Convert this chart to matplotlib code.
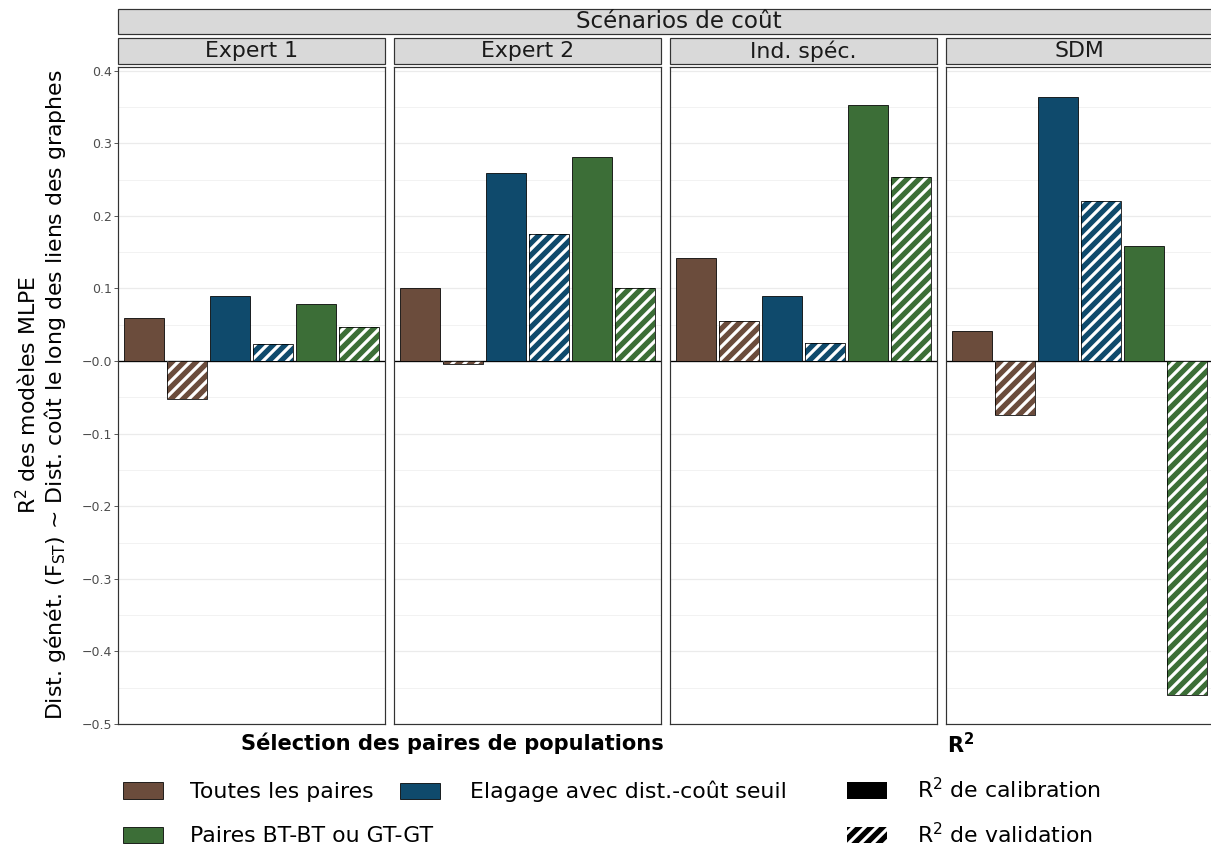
import matplotlib.pyplot as plt
import numpy as np
from matplotlib.patches import Patch, Rectangle

# data
scenarios = ['Expert 1', 'Expert 2', 'Ind. spéc.', 'SDM']
selections = ['Toutes les paires', 'Elagage avec dist.-coût seuil', 'Paires BT-BT ou GT-GT']
sel_colors = ['#6B4C3C', '#0F4A6C', '#3C6E37']

# R2 per scenario (Expert 1, Expert 2, Ind. spec., SDM)
cal_toutes = [0.059, 0.101, 0.142, 0.041]
val_toutes = [-0.052, -0.004, 0.055, -0.074]
cal_elagage = [0.089, 0.259, 0.090, 0.364]
val_elagage = [0.023, 0.175, 0.025, 0.221]
cal_btgt = [0.078, 0.281, 0.353, 0.158]
val_btgt = [0.047, 0.101, 0.254, -0.460]

cal = [cal_toutes, cal_elagage, cal_btgt]
val = [val_toutes, val_elagage, val_btgt]

W, H = 1211, 848
FS = 22
plt.rcParams['font.family'] = 'DejaVu Sans'
plt.rcParams['hatch.linewidth'] = 3.2
fig = plt.figure(figsize=(W / 72, H / 72), dpi=72)


def fx(px):
    return px / W


def fy(py):
    return 1 - py / H


yticks = np.arange(-0.5, 0.41, 0.1)
minor = np.arange(-0.45, 0.41, 0.1)
bw = 0.92

for i, sc in enumerate(scenarios):
    ax = fig.add_axes([fx(118 + i * 276), fy(724), 267 / W, 657 / H])
    ax.set_xlim(-0.6, 5.6)
    ax.set_ylim(-0.5, 0.405)
    ax.set_yticks(yticks)
    ax.set_yticks(minor, minor=True)
    ax.grid(True, which='major', axis='y', color='#EBEBEB', lw=1.2)
    ax.grid(True, which='minor', axis='y', color='#EBEBEB', lw=0.6)
    ax.set_axisbelow(True)
    ax.axhline(0, color='black', lw=1.3, zorder=1)
    for j in range(3):
        xc = 2 * j
        xv = 2 * j + 1
        ax.bar(xc, cal[j][i], bw, color=sel_colors[j], edgecolor='black', lw=0.8, zorder=2)
        ax.bar(xv, val[j][i], bw, color=sel_colors[j], edgecolor='white', hatch='//', lw=0, zorder=2)
        ax.bar(xv, val[j][i], bw, fill=False, edgecolor='black', lw=0.8, zorder=3)
    ax.set_xticks([])
    for s in ax.spines.values():
        s.set_color('#333333')
        s.set_linewidth(1.2)
    if i == 0:
        ax.set_yticklabels([f'{t:.1f}'.replace('-', '\u2212') for t in yticks])
        ax.tick_params(axis='y', which='major', length=4, color='#333333',
                       labelsize=12.5, labelcolor='#4D4D4D', pad=2)
        ax.tick_params(axis='y', which='minor', length=0)
    else:
        ax.tick_params(axis='y', which='both', length=0, labelleft=False)

    # facet strip
    fig.add_artist(Rectangle((fx(118 + i * 276), fy(64)), 267 / W, 26 / H,
                             transform=fig.transFigure, facecolor='#D9D9D9',
                             edgecolor='#333333', lw=1.2))
    fig.text(fx(118 + i * 276 + 133.5), fy(51), sc, ha='center', va='center',
             fontsize=FS, color='#1A1A1A')

# outer strip
fig.add_artist(Rectangle((fx(118), fy(34)), (1240 - 118) / W, 25 / H,
                         transform=fig.transFigure, facecolor='#D9D9D9',
                         edgecolor='#333333', lw=1.2))
fig.text(fx(679), fy(21.5), 'Scénarios de coût', ha='center', va='center',
         fontsize=23, color='#1A1A1A')

# y label (two lines)
fig.text(fx(28), fy(395), r'R$^2$ des modèles MLPE', rotation=90,
         ha='center', va='center', fontsize=FS)
fig.text(fx(55), fy(395),
         r'Dist. génét. (F$_{\mathrm{ST}}$) ~ Dist. coût le long des liens des graphes',
         rotation=90, ha='center', va='center', fontsize=FS)

# legends
kw = dict(loc='upper left', frameon=False, fontsize=FS, borderpad=0,
          borderaxespad=0, handlelength=40 / FS, handleheight=17 / FS)
h_sel = [Patch(facecolor=c, edgecolor='black', lw=0.8) for c in sel_colors]
fig.legend([h_sel[0], h_sel[2]], [selections[0], selections[2]],
           bbox_to_anchor=(fx(123), fy(782)), handletextpad=27 / FS,
           labelspacing=1.11, **kw)
fig.legend([h_sel[1]], [selections[1]],
           bbox_to_anchor=(fx(400), fy(781)), handletextpad=30 / FS,
           labelspacing=1.11, **kw)
fig.text(fx(452), fy(743), 'Sélection des paires de populations',
         ha='center', va='center', fontsize=21, fontweight='bold')

h_r2 = [Patch(facecolor='black', edgecolor='black', lw=0),
        Patch(facecolor='black', edgecolor='white', hatch='//', lw=0)]
fig.legend(h_r2, [r'R$^2$ de calibration', r'R$^2$ de validation'],
           bbox_to_anchor=(fx(847), fy(777)), handletextpad=30 / FS,
           labelspacing=0.88, **kw)
fig.text(fx(961), fy(745), r'$\mathbf{R^2}$', ha='center', va='center',
         fontsize=21, fontweight='bold')

fig.savefig('out.png', dpi=72)
